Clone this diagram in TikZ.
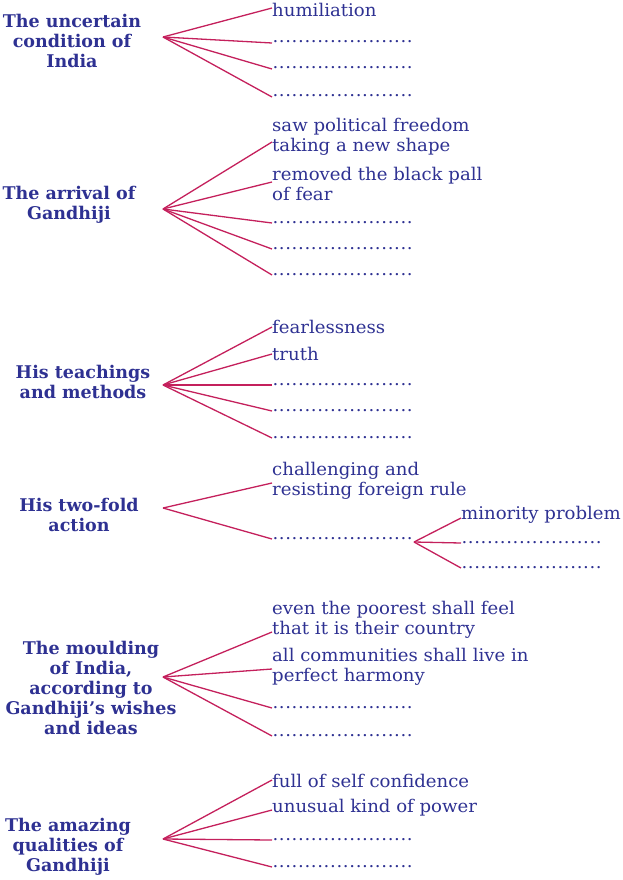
\documentclass[tikz,border=0pt]{standalone}
\usepackage{fontspec}
\setmainfont{DejaVu Serif}
\newfontfamily\bodyfont[FakeStretch=1.035]{DejaVu Serif}
\usepackage{xcolor}
\usepackage{tikz}
\definecolor{inkblue}{RGB}{46,49,146}
\definecolor{branchred}{RGB}{196,32,92}
\newcommand{\blankdots}{\foreach \i in {1,...,22}{\hbox to 6.4pt{\hss.\hss}}}
\tikzset{
  head/.style={align=center, inner sep=0pt, text=inkblue,
    font=\fontsize{17.5}{20}\selectfont\bfseries},
  item/.style={align=left, inner sep=0pt, text=inkblue,
    font=\bodyfont\fontsize{17.5}{20}\selectfont},
  blank/.style={inner sep=0pt, text=inkblue, anchor=base west,
    font=\bodyfont\fontsize{17.5}{20}\selectfont},
  branch/.style={draw=branchred, line width=1.3pt},
}

\begin{document}
\begin{tikzpicture}[x=1pt, y=-1pt]
  \useasboundingbox (0,0) rectangle (623,880);

  % the uncertain condition of India
  \node[head] (cond) at (72,41) {The uncertain\\condition of\\India};
  \coordinate (hcond) at (163,37);
  \node[item, anchor=west] (humil) at (272,10) {humiliation};
  \node[blank] (cond2) at (272,43) {\blankdots};
  \node[blank] (cond3) at (272,69) {\blankdots};
  \node[blank] (cond4) at (272,97) {\blankdots};
  \draw[branch] (hcond) -- ([yshift=2pt]humil.west);
  \foreach \n in {cond2,cond3,cond4}
    \draw[branch] (hcond) -- (\n.base west);

  % the arrival of Gandhiji
  \node[head] (arrive) at (69,205) {The arrival of\\Gandhiji};
  \coordinate (harrive) at (163,209);
  \node[item, anchor=west] (polfree) at (272,137)
    {saw political freedom\\taking a new shape};
  \node[item, anchor=west] (pall) at (272,184)
    {removed the black pall\\of fear};
  \node[blank] (arrive3) at (272,223) {\blankdots};
  \node[blank] (arrive4) at (272,249) {\blankdots};
  \node[blank] (arrive5) at (272,275) {\blankdots};
  \draw[branch] (harrive) -- ([yshift=-5pt]polfree.west);
  \draw[branch] (harrive) -- ([yshift=2pt]pall.west);
  \foreach \n in {arrive3,arrive4,arrive5}
    \draw[branch] (harrive) -- (\n.base west);

  % his teachings and methods
  \node[head] (teach) at (83,382) {His teachings\\and methods};
  \coordinate (hteach) at (163,385);
  \node[item, anchor=west] (fear) at (272,327) {fearlessness};
  \node[item, anchor=west] (truth) at (272,354) {truth};
  \node[blank] (teach3) at (272,385) {\blankdots};
  \node[blank] (teach4) at (272,411) {\blankdots};
  \node[blank] (teach5) at (272,438) {\blankdots};
  \draw[branch] (hteach) -- (fear.west);
  \draw[branch] (hteach) -- (truth.west);
  \foreach \n in {teach3,teach4,teach5}
    \draw[branch] (hteach) -- (\n.base west);

  % his two-fold action
  \node[head] (twofold) at (79,515) {His two-fold\\action};
  \coordinate (htwofold) at (163,508);
  \node[item, anchor=west] (resist) at (272,481)
    {challenging and\\resisting foreign rule};
  \node[blank] (twofold2) at (272,539) {\blankdots};
  \coordinate (hsub) at (414,542);
  \node[item, anchor=west] (minor) at (461,515) {minority problem};
  \node[blank] (sub2) at (461,543) {\blankdots};
  \node[blank] (sub3) at (461,568) {\blankdots};
  \draw[branch] (htwofold) -- ([yshift=-2pt]resist.west);
  \draw[branch] (htwofold) -- (twofold2.base west);
  \draw[branch] (hsub) -- ([yshift=-3pt]minor.west);
  \draw[branch] (hsub) -- (sub2.base west);
  \draw[branch] (hsub) -- (sub3.base west);

  % the moulding of India
  \node[head] (mould) at (91,688)
    {The moulding\\of India,\\according to\\Gandhiji’s wishes\\and ideas};
  \coordinate (hmould) at (163,677);
  \node[item, anchor=west] (poorest) at (272,620)
    {even the poorest shall feel\\that it is their country};
  \node[item, anchor=west] (harmony) at (272,667)
    {all communities shall live in\\perfect harmony};
  \node[blank] (mould3) at (272,708) {\blankdots};
  \node[blank] (mould4) at (272,736) {\blankdots};
  \draw[branch] (hmould) -- ([yshift=-12pt]poorest.west);
  \draw[branch] (hmould) -- ([yshift=-2pt]harmony.west);
  \foreach \n in {mould3,mould4}
    \draw[branch] (hmould) -- (\n.base west);

  % the amazing qualities of Gandhiji
  \node[head] (qual) at (68,847) {The amazing\\qualities of\\Gandhiji};
  \coordinate (hqual) at (163,839);
  \node[item, anchor=west] (confid) at (272,781) {full of self confidence};
  \node[item, anchor=west] (power) at (272,808) {unusual kind of power};
  \node[blank] (qual3) at (272,840) {\blankdots};
  \node[blank] (qual4) at (272,867) {\blankdots};
  \draw[branch] (hqual) -- ([yshift=1pt]confid.west);
  \draw[branch] (hqual) -- ([yshift=-2pt]power.west);
  \foreach \n in {qual3,qual4}
    \draw[branch] (hqual) -- (\n.base west);
\end{tikzpicture}
\end{document}
